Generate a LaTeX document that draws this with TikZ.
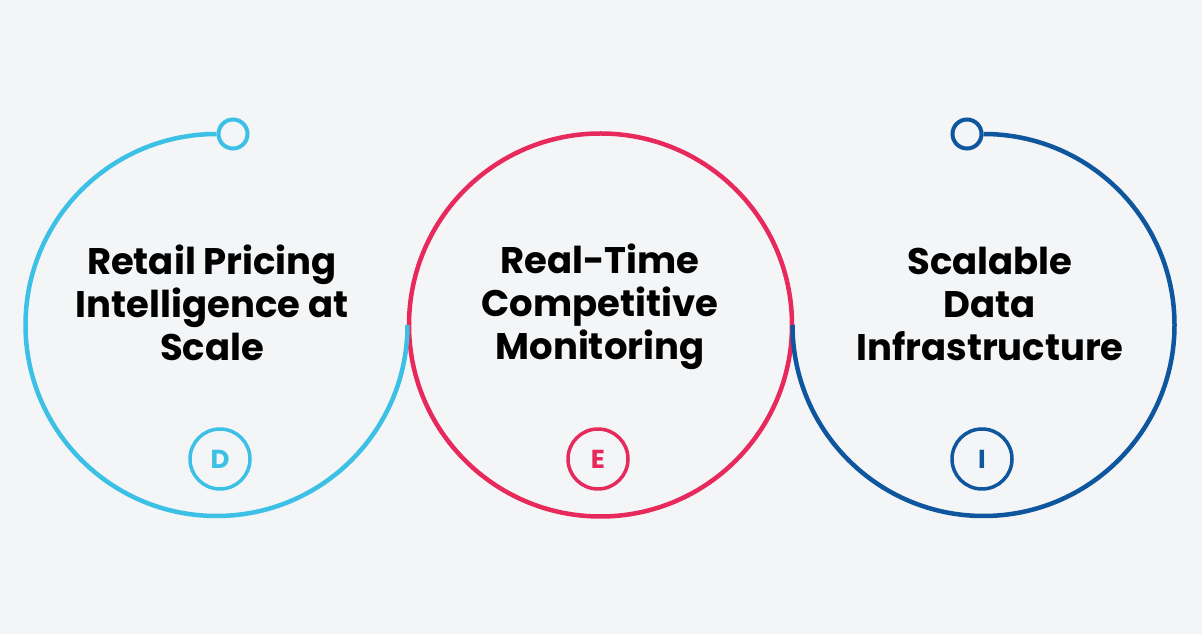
\documentclass[tikz,border=0pt]{standalone}
\usepackage{fontspec}
\setmainfont{Poppins}
\usepackage{tikz}
\definecolor{bgcol}{HTML}{F3F5F7}
\definecolor{ringcyan}{HTML}{3DC0E6}
\definecolor{ringpink}{HTML}{E8295C}
\definecolor{ringblue}{HTML}{0E569D}
\tikzset{
  ring/.style={line width=4.5pt},
  knob/.style={circle, draw=#1, line width=4pt, minimum size=29pt, inner sep=0pt},
  badge/.style={circle, draw=#1, text=#1, line width=3.5pt, minimum size=60pt, inner sep=0pt,
    font=\fontsize{26}{26}\selectfont\bfseries},
  caption/.style={align=center, text=black, font=\fontsize{37}{43}\selectfont\bfseries}
}

\begin{document}
\begin{tikzpicture}[x=1pt,y=1pt]
\fill[bgcol] (0,0) rectangle (1202,634);
\useasboundingbox (0,0) rectangle (1202,634);

\node[knob=ringcyan] (knobD) at (233,500) {};
\node[knob=ringblue] (knobI) at (967,500) {};

\draw[ring, ringpink] (600.5,309) circle[radius=191.5];
\draw[ring, ringcyan] (knobD.west) arc[start angle=90, end angle=360, radius=191];
\draw[ring, ringblue] (knobI.east) arc[start angle=90, end angle=-180, radius=191];

\node[caption] (capD) at (212,331) {Retail Pricing\\Intelligence at\\Scale};
\node[caption] (capE) at (600,327) {Real-Time\\Competitive\\Monitoring};
\node[caption] (capI) at (990,330) {Scalable\\Data\\Infrastructure};

\node[badge=ringcyan] (badgeD) at (220,175) {D};
\node[badge=ringpink] (badgeE) at (598,175) {E};
\node[badge=ringblue] (badgeI) at (982,175) {I};
\end{tikzpicture}
\end{document}
